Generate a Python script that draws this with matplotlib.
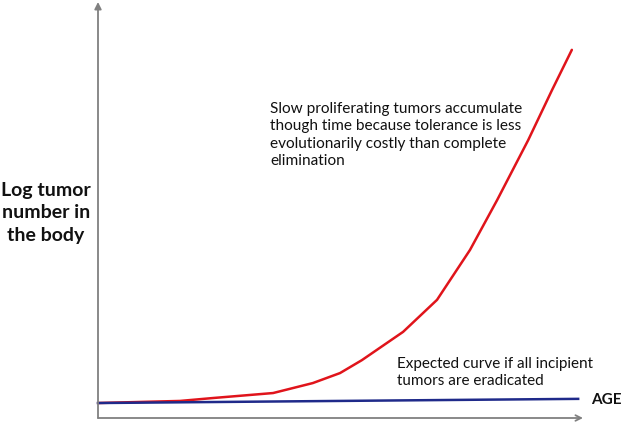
import matplotlib
matplotlib.use("Agg")
import matplotlib.pyplot as plt

# Data (arbitrary units: age 0-100, log tumor number 0-100)
age_red = [0, 16.9, 23.7, 36.1, 44.3, 49.9, 54.4, 62.9, 69.9, 76.7, 82.3, 88.7, 93.6, 97.7]
tumors_red = [3.6, 4.1, 4.8, 6.0, 8.4, 10.8, 13.9, 20.7, 28.4, 40.4, 52.4, 66.8, 78.8, 88.5]
age_blue = [0, 99.0]
tumors_blue = [3.6, 4.6]

W, H = 623, 426
fig = plt.figure(figsize=(W / 100, H / 100), dpi=100)
ax = fig.add_axes([98 / W, 8 / H, 485 / W, 416 / H])
ax.set_xlim(0, 100)
ax.set_ylim(0, 100)
ax.axis("off")

font = ["Lato", "DejaVu Sans"]

ax.plot(age_red, tumors_red, color="#e0141b", lw=1.8, solid_capstyle="round",
        solid_joinstyle="round", clip_on=False)
ax.plot(age_blue, tumors_blue, color="#1f2a8a", lw=1.8, clip_on=False)

axis_color = "#808080"
ax.annotate("", xy=(0, 1.0), xytext=(0, 0), xycoords="axes fraction",
            arrowprops=dict(arrowstyle="-|>", color=axis_color, lw=1.3,
                            mutation_scale=10, shrinkA=0, shrinkB=0),
            annotation_clip=False)
ax.annotate("", xy=(1.0, 0), xytext=(0, 0), xycoords="axes fraction",
            arrowprops=dict(arrowstyle="->", color=axis_color, lw=1.3,
                            mutation_scale=10, shrinkA=0, shrinkB=0),
            annotation_clip=False)

fig.text(270 / W, 1 - 102 / H,
         "Slow proliferating tumors accumulate\nthough time because tolerance is less\n"
         "evolutionarily costly than complete\nelimination",
         family=font, fontsize=11.1, ha="left", va="top", linespacing=1.3, color="#111111")
fig.text(397 / W, 1 - 372.5 / H,
         "Expected curve if all incipient\ntumors are eradicated",
         family=font, fontsize=11, ha="left", va="center", linespacing=1.25, color="#111111")
fig.text(591 / W, 1 - 400 / H, "AGE", family=font, fontsize=11, fontweight="bold",
         ha="left", va="center", color="#111111")
fig.text(46 / W, 1 - 213 / H, "Log tumor\nnumber in\nthe body", family=font,
         fontsize=14, fontweight="bold", ha="center", va="center", linespacing=1.4,
         color="#111111")

fig.savefig("out.png", dpi=100)
